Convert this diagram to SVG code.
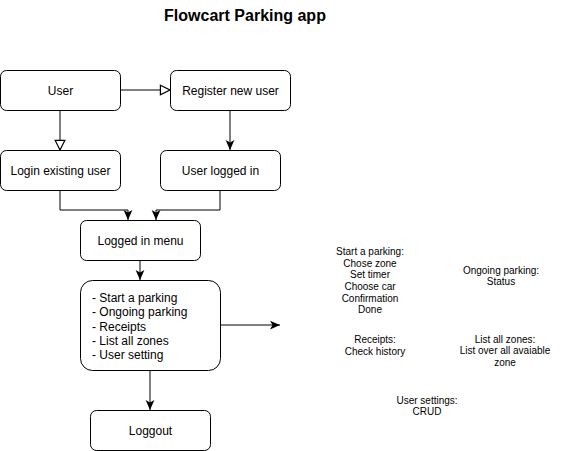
<svg xmlns="http://www.w3.org/2000/svg" width="561" height="451" viewBox="0 0 561 451">
<style>
.box{fill:#fff;stroke:#000;stroke-width:1}
.t{font-family:"Liberation Sans",Arial,sans-serif;font-size:12px;fill:#000}
.s{font-family:"Liberation Sans",Arial,sans-serif;font-size:10px;fill:#000;text-anchor:middle}
.c{text-anchor:middle}
.e{fill:none;stroke:#000;stroke-width:1}
</style>
<defs>
<marker id="open" markerWidth="12" markerHeight="12" refX="9" refY="5" orient="auto" markerUnits="userSpaceOnUse" viewBox="0 0 10 10">
<path d="M1,1 L9,5 L1,9 Z" fill="#fff" stroke="#000" stroke-width="1"/>
</marker>
<marker id="arr" markerWidth="10" markerHeight="10" refX="8" refY="4" orient="auto" markerUnits="userSpaceOnUse" viewBox="0 0 8 8">
<path d="M0,0.5 L8,4 L0,7.5 L2,4 Z" fill="#000"/>
</marker>
</defs>
<rect width="561" height="451" fill="#fff"/>
<text x="245" y="21" class="t c" style="font-size:16px;font-weight:bold">Flowcart Parking app</text>
<g id="connectors">
<path class="e" d="M120,90 L170,90" marker-end="url(#open)"/>
<path class="e" d="M60,110 L60,150" marker-end="url(#open)"/>
<path class="e" d="M230,110 L230,150" marker-end="url(#arr)"/>
<path class="e" d="M60,190 L60,210 L128,210 L128,220" marker-end="url(#arr)"/>
<path class="e" d="M220,190 L220,210 L156,210 L156,220" marker-end="url(#arr)"/>
<path class="e" d="M140,260 L140,280" marker-end="url(#arr)"/>
<path class="e" d="M220,325 L280,325" marker-end="url(#arr)"/>
<path class="e" d="M150,370 L150,410" marker-end="url(#arr)"/>
</g>
<g id="user"><rect class="box" x="0.5" y="70.5" width="120" height="40" rx="6"/><text class="t c" x="60.5" y="95">User</text></g>
<g id="register"><rect class="box" x="170.5" y="70.5" width="120" height="40" rx="6"/><text class="t c" x="230.5" y="95">Register new user</text></g>
<g id="login"><rect class="box" x="0.5" y="150.5" width="120" height="40" rx="6"/><text class="t c" x="60.5" y="175">Login existing user</text></g>
<g id="loggedin"><rect class="box" x="160.5" y="150.5" width="120" height="40" rx="6"/><text class="t c" x="220.5" y="175">User logged in</text></g>
<g id="menu"><rect class="box" x="80.5" y="220.5" width="120" height="40" rx="6"/><text class="t c" x="140.5" y="245">Logged in menu</text></g>
<g id="options"><rect class="box" x="80.5" y="280.5" width="140" height="90" rx="12"/>
<text class="t" x="92" y="302">- Start a parking</text>
<text class="t" x="92" y="316">- Ongoing parking</text>
<text class="t" x="92" y="331">- Receipts</text>
<text class="t" x="92" y="345">- List all zones</text>
<text class="t" x="92" y="359">- User setting</text>
</g>
<g id="logout"><rect class="box" x="90.5" y="410.5" width="120" height="40" rx="6"/><text class="t c" x="150.5" y="435">Loggout</text></g>
<g id="start-parking">
<text class="s" x="370" y="255">Start a parking:</text>
<text class="s" x="370" y="266.5">Chose zone</text>
<text class="s" x="370" y="278">Set timer</text>
<text class="s" x="370" y="290">Choose car</text>
<text class="s" x="370" y="301.5">Confirmation</text>
<text class="s" x="370" y="313">Done</text>
</g>
<g id="ongoing">
<text class="s" x="501" y="273.5">Ongoing parking:</text>
<text class="s" x="501" y="285">Status</text>
</g>
<g id="receipts">
<text class="s" x="375" y="342.5">Receipts:</text>
<text class="s" x="375" y="355">Check history</text>
</g>
<g id="zones">
<text class="s" x="505" y="342.5">List all zones:</text>
<text class="s" x="505" y="354">List over all avaiable</text>
<text class="s" x="505" y="366">zone</text>
</g>
<g id="settings">
<text class="s" x="427" y="403.5">User settings:</text>
<text class="s" x="427" y="415">CRUD</text>
</g>
</svg>
